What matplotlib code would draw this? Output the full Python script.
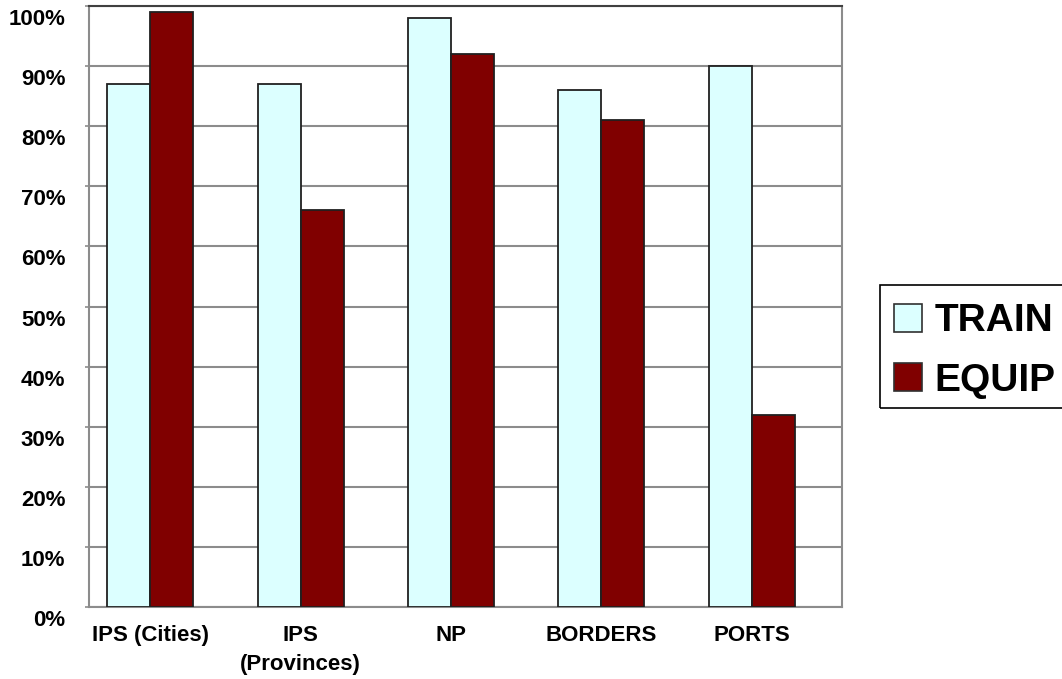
import matplotlib
matplotlib.use("Agg")
import matplotlib.pyplot as plt
import matplotlib.transforms as mtransforms
from matplotlib.patches import Patch, Rectangle
from matplotlib.ticker import FuncFormatter, MultipleLocator
import numpy as np

categories = ["IPS (Cities)", "IPS\n(Provinces)", "NP", "BORDERS", "PORTS"]
train = [87, 87, 98, 86, 90]
equip = [99, 66, 92, 81, 32]

TRAIN_COLOR = "#DCFFFF"
EQUIP_COLOR = "#800000"

plt.rcParams["font.family"] = ["Liberation Sans", "DejaVu Sans"]
plt.rcParams["font.weight"] = "bold"

W, H = 1062, 679
fig = plt.figure(figsize=(W / 100, H / 100), dpi=100)
ax = fig.add_axes([89 / W, 1 - 607 / H, (842 - 89) / W, (607 - 6) / H])

x = np.arange(len(categories))
w = 0.286
ax.bar(x - w / 2, train, w, color=TRAIN_COLOR, edgecolor="#202020", linewidth=1.3, zorder=3)
ax.bar(x + w / 2, equip, w, color=EQUIP_COLOR, edgecolor="#202020", linewidth=1.3, zorder=3)

ax.set_xlim(-0.409, 4.602)
ax.set_ylim(0, 100)
ax.yaxis.set_major_locator(MultipleLocator(10))
ax.yaxis.set_major_formatter(FuncFormatter(lambda v, p: f"{int(v)}%"))
ax.set_xticks(x)
ax.set_xticklabels(categories, linespacing=1.5)

ax.grid(axis="y", color="#8c8c8c", linewidth=1.5, zorder=0)
for side in ["left", "bottom", "right"]:
    ax.spines[side].set_color("#8c8c8c")
    ax.spines[side].set_linewidth(1.5)
ax.spines["top"].set_color("#404040")
ax.spines["top"].set_linewidth(1.5)

ax.tick_params(axis="y", length=3, width=1.2, color="#8c8c8c", pad=14, labelsize=16)
ax.tick_params(axis="x", length=0, pad=13, labelsize=16)

# value labels sit a little under their gridlines
offset = mtransforms.ScaledTranslation(0, -11 / 100, fig.dpi_scale_trans)
for lab in ax.get_yticklabels():
    lab.set_transform(lab.get_transform() + offset)

handles = [
    Patch(facecolor=TRAIN_COLOR, edgecolor="#303030", linewidth=1.2, label="TRAIN"),
    Patch(facecolor=EQUIP_COLOR, edgecolor="#303030", linewidth=1.2, label="EQUIP"),
]
fig.legend(handles=handles, loc="center left",
           bbox_to_anchor=(894 / W, 1 - 351 / H),
           borderaxespad=0, prop={"weight": "bold", "size": 28},
           handlelength=0.72, handleheight=0.72, handletextpad=0.33,
           labelspacing=0.6, borderpad=0, frameon=False)

# legend box runs off the right edge of the picture
fig.patches.append(Rectangle((880 / W, 1 - 408 / H), 200 / W, 123 / H,
                             transform=fig.transFigure, fill=False,
                             edgecolor="#000000", linewidth=1.2))

fig.savefig("out.png", dpi=100)
